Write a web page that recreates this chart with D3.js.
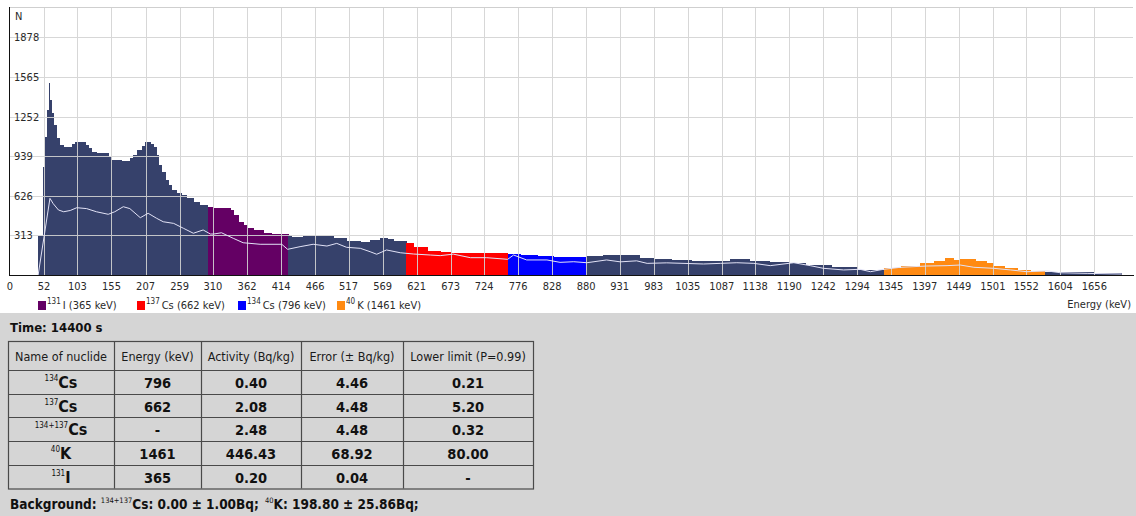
<!DOCTYPE html>
<html>
<head>
<meta charset="utf-8">
<script src="https://cdn.jsdelivr.net/npm/d3@7"></script>
<style>
  html, body { margin: 0; padding: 0; background: #ffffff; }
  svg { display: block; font-family: "DejaVu Sans Condensed", "DejaVu Sans", sans-serif; font-stretch: condensed; }
</style>
</head>
<body>
<svg id="chart" width="1136" height="516"></svg>
<script>
// ---- Gamma spectrum (counts per bin); each bin runs from binStart[i] to the next start ----
const binStart = [43, 50, 54, 57, 59, 61, 64, 67, 71, 76, 82, 94, 99, 115, 120, 125, 132, 150, 155, 171,
  183, 188, 194, 201, 206, 214, 219, 224, 227, 232, 237, 242, 247, 255, 262, 270, 280, 290, 302, 311,
  336, 341, 349, 356, 362, 372, 387, 400, 425, 430, 448, 474, 494, 514, 535, 550, 565, 576, 586, 605,
  616, 637, 657, 672, 740, 760, 779, 805, 830, 880, 906, 935, 962, 983, 1010, 1040, 1100, 1130, 1160, 1190,
  1215, 1255, 1295, 1334, 1360, 1390, 1411, 1428, 1441, 1451, 1474, 1492, 1502, 1518, 1538, 1558, 1580, 1630, 1655];
const binCount = [311, 856, 1093, 1304, 1517, 1383, 1280, 1186, 1083, 1028, 1014, 1035, 1049, 1030, 1001, 975, 962, 930, 909, 901,
  925, 948, 988, 1020, 1054, 1035, 1009, 948, 869, 817, 751, 711, 672, 646, 632, 606, 580, 553, 540, 532,
  514, 474, 421, 395, 369, 356, 334, 324, 308, 303, 306, 311, 295, 269, 258, 277, 290, 285, 269, 250,
  220, 192, 182, 171, 174, 164, 158, 150, 145, 150, 155, 158, 135, 124, 119, 113, 124, 113, 100, 95,
  82, 62, 38, 53, 74, 92, 113, 134, 119, 124, 113, 97, 71, 53, 40, 32, 26, 22, 13];
const spectrumEnd = 1698;

// ---- Background spectrum (light trace) ----
const bgEnergy = [43, 61, 66, 74, 82, 92, 102, 117, 132, 150, 160, 173, 183, 199, 211, 224, 234, 250, 265, 280,
  295, 306, 311, 323, 341, 356, 382, 415, 424, 443, 463, 484, 499, 514, 535, 550, 560, 575, 596, 616,
  642, 657, 677, 703, 728, 760, 769, 789, 820, 840, 861, 881, 911, 932, 957, 973, 1003, 1059, 1085, 1110,
  1136, 1161, 1197, 1222, 1242, 1273, 1298, 1314, 1334, 1360, 1400, 1431, 1451, 1472, 1502, 1528, 1553, 1584, 1604, 1645, 1698];
const bgCount = [0, 606, 564, 514, 500, 510, 532, 525, 500, 480, 500, 540, 525, 453, 488, 448, 421, 408, 369, 330,
  356, 324, 324, 334, 290, 255, 243, 243, 203, 224, 243, 229, 250, 219, 211, 184, 164, 198, 176, 166,
  158, 153, 165, 137, 137, 124, 158, 119, 119, 100, 105, 97, 119, 104, 112, 92, 96, 87, 92, 97,
  92, 74, 97, 74, 53, 40, 45, 26, 45, 61, 71, 74, 79, 61, 53, 40, 26, 32, 18, 13, 8];

// ---- Nuclide energy windows ----
const windowMass = ["131", "137", "134", "40"];
const windowSymbol = ["I", "Cs", "Cs", "K"];
const windowLine = ["365", "662", "796", "1461"];
const windowFrom = [302, 605, 760, 1334];
const windowTo = [425, 760, 880, 1580];

// ---- Axis ticks ----
const xTickLabels = ["0", "52", "103", "155", "207", "259", "310", "362", "414", "466", "517", "569", "621",
  "673", "724", "776", "828", "880", "931", "983", "1035", "1087", "1138", "1190", "1242", "1294",
  "1345", "1397", "1449", "1501", "1552", "1604", "1656"];
const yTickValues = [313, 626, 939, 1252, 1565, 1878];

// ---- Results table ----
const measureTime = "14400 s";
const tableHeaders = ["Name of nuclide", "Energy (keV)", "Activity (Bq/kg)", "Error (\u00b1 Bq/kg)", "Lower limit (P=0.99)"];
const rowMass = ["134", "137", "134+137", "40", "131"];
const rowSymbol = ["Cs", "Cs", "Cs", "K", "I"];
const rowEnergy = ["796", "662", "-", "1461", "365"];
const rowActivity = ["0.40", "2.08", "2.48", "446.43", "0.20"];
const rowError = ["4.46", "4.48", "4.48", "68.92", "0.04"];
const rowLower = ["0.21", "5.20", "0.32", "80.00", "-"];
const bgCs = "0.00 \u00b1 1.00Bq;";
const bgK = "198.80 \u00b1 25.86Bq;";

// ---- Styling ----
const baseColor = "#36416b";
const windowColors = ["#640064", "#ff0000", "#0000ff", "#ff8a12"];
const gridColor = "#d3d3d3";
const textColor = "#2a2a2a";
const legendX = [38, 137, 238, 337];

const svg = d3.select("#chart");
const W = 1136, H = 516;
const plot = { left: 10, right: 1133, top: 7, bottom: 275 };

const x = d3.scaleLinear().domain([0, 1715]).range([plot.left, plot.right]);
const y = d3.scaleLinear().domain([0, 2119]).range([plot.bottom, plot.top]);

svg.append("rect").attr("width", W).attr("height", H).attr("fill", "#ffffff");

// spectrum bins
const bins = binStart.map((s, i) => ({
  from: s,
  to: i + 1 < binStart.length ? binStart[i + 1] : spectrumEnd,
  n: binCount[i]
}));
function binColor(e) {
  for (let k = 0; k < windowFrom.length; k++) {
    if (e >= windowFrom[k] && e < windowTo[k]) return windowColors[k];
  }
  return baseColor;
}
svg.append("g").attr("shape-rendering", "crispEdges")
  .selectAll("rect").data(bins).join("rect")
  .attr("x", d => x(d.from))
  .attr("width", d => x(d.to) - x(d.from) + 0.5)
  .attr("y", d => y(d.n))
  .attr("height", d => y(0) - y(d.n))
  .attr("fill", d => binColor(d.from));

// grid (drawn over the fill, as in the instrument display)
const grid = svg.append("g").attr("stroke", gridColor).attr("stroke-width", 1).attr("opacity", 0.9);
grid.selectAll("line.v").data(xTickLabels.slice(1)).join("line")
  .attr("x1", d => Math.round(x(+d)) + 0.5).attr("x2", d => Math.round(x(+d)) + 0.5)
  .attr("y1", plot.top).attr("y2", plot.bottom);
grid.selectAll("line.h").data(yTickValues).join("line")
  .attr("x1", plot.left).attr("x2", plot.right)
  .attr("y1", d => Math.round(y(d)) + 0.5).attr("y2", d => Math.round(y(d)) + 0.5);

// background trace
const bgLine = d3.line().x(d => x(d[0])).y(d => y(d[1]));
svg.append("path")
  .datum(bgEnergy.map((e, i) => [e, bgCount[i]]))
  .attr("d", bgLine)
  .attr("fill", "none")
  .attr("stroke", "#e2e2f6")
  .attr("stroke-width", 1);

// frame and axes
svg.append("line").attr("x1", plot.left).attr("x2", plot.right).attr("y1", plot.top + 0.5).attr("y2", plot.top + 0.5)
  .attr("stroke", "#cfcfcf");
svg.append("line").attr("x1", plot.left - 0.5).attr("x2", plot.left - 0.5).attr("y1", plot.top).attr("y2", plot.bottom + 1)
  .attr("stroke", "#111");
svg.append("line").attr("x1", plot.left - 1).attr("x2", plot.right + 1).attr("y1", plot.bottom + 0.5).attr("y2", plot.bottom + 0.5)
  .attr("stroke", "#111");

// y tick labels (inside the plot)
svg.append("g").selectAll("text").data(yTickValues).join("text")
  .attr("x", 14).attr("y", d => y(d)).attr("dy", "0.35em")
  .attr("font-size", 11).attr("fill", textColor)
  .text(d => d);
svg.append("text").attr("x", 15).attr("y", 16).attr("dy", "0.35em")
  .attr("font-size", 11).attr("fill", textColor).text("N");

// x tick labels
svg.append("g").selectAll("text").data(xTickLabels).join("text")
  .attr("x", d => x(+d)).attr("y", 286).attr("dy", "0.35em")
  .attr("text-anchor", "middle").attr("font-size", 11).attr("fill", textColor)
  .text(d => d);
svg.append("text").attr("x", 1131).attr("y", 304).attr("dy", "0.35em")
  .attr("text-anchor", "end").attr("font-size", 11).attr("fill", textColor)
  .text("Energy (keV)");

// legend
const legend = svg.append("g");
windowMass.forEach((m, i) => {
  const lx = legendX[i];
  legend.append("rect").attr("x", lx).attr("y", 301).attr("width", 8).attr("height", 9)
    .attr("fill", windowColors[i]);
  const t = legend.append("text").attr("x", lx + 9).attr("y", 309)
    .attr("font-size", 11).attr("fill", textColor);
  t.append("tspan").attr("font-size", 8).attr("dy", -5).text(m);
  t.append("tspan").attr("dy", 5).text("\u2009" + windowSymbol[i] + " (" + windowLine[i] + " keV)");
});

// results panel
const panelTop = 313;
svg.append("rect").attr("x", 0).attr("y", panelTop).attr("width", W).attr("height", H - panelTop)
  .attr("fill", "#d5d5d5");

svg.append("text").attr("x", 10).attr("y", 327).attr("dy", "0.35em")
  .attr("font-size", 13).attr("font-weight", "bold").attr("fill", "#111")
  .text("Time: " + measureTime);

const colEdges = [8, 114, 201, 301, 403, 533];
const headerTop = 341, headerBottom = 370, rowH = 23.7;
const rowEdges = [headerTop, headerBottom];
for (let i = 1; i <= rowMass.length; i++) rowEdges.push(headerBottom + i * rowH);

const table = svg.append("g");
// borders
table.append("rect")
  .attr("x", colEdges[0] + 0.5).attr("y", headerTop + 0.5)
  .attr("width", colEdges[colEdges.length - 1] - colEdges[0])
  .attr("height", rowEdges[rowEdges.length - 1] - headerTop)
  .attr("fill", "none").attr("stroke", "#4a4a4a").attr("stroke-width", 1.2);
colEdges.slice(1, -1).forEach(cx => {
  table.append("line").attr("x1", cx + 0.5).attr("x2", cx + 0.5)
    .attr("y1", headerTop).attr("y2", rowEdges[rowEdges.length - 1])
    .attr("stroke", "#4a4a4a").attr("stroke-width", 1.2);
});
rowEdges.slice(1, -1).forEach(ry => {
  table.append("line").attr("x1", colEdges[0]).attr("x2", colEdges[colEdges.length - 1])
    .attr("y1", Math.round(ry) + 0.5).attr("y2", Math.round(ry) + 0.5)
    .attr("stroke", "#4a4a4a").attr("stroke-width", 1.2);
});
const colMid = i => (colEdges[i] + colEdges[i + 1]) / 2;
tableHeaders.forEach((h, i) => {
  table.append("text").attr("x", colMid(i)).attr("y", (headerTop + headerBottom) / 2 + 1)
    .attr("dy", "0.35em").attr("text-anchor", "middle")
    .attr("font-size", 12.5).attr("fill", "#1a1a1a").text(h);
});
rowMass.forEach((m, r) => {
  const cy = (rowEdges[r + 1] + rowEdges[r + 2]) / 2;
  const name = table.append("text").attr("x", colMid(0)).attr("y", cy + 6)
    .attr("text-anchor", "middle").attr("fill", "#111");
  name.append("tspan").attr("font-size", 8).attr("dy", -7).text(m);
  name.append("tspan").attr("font-size", 16).attr("font-weight", "bold").attr("dy", 7).text(rowSymbol[r]);
  [rowEnergy[r], rowActivity[r], rowError[r], rowLower[r]].forEach((v, c) => {
    table.append("text").attr("x", colMid(c + 1)).attr("y", cy + 1).attr("dy", "0.35em")
      .attr("text-anchor", "middle").attr("font-size", 14.5).attr("font-weight", "bold")
      .attr("fill", "#111").text(v);
  });
});

// background activities line
const bg = svg.append("text").attr("x", 10).attr("y", 509)
  .attr("font-size", 13.5).attr("font-weight", "bold").attr("fill", "#111");
bg.append("tspan").text("Background: ");
bg.append("tspan").attr("font-size", 7.5).attr("font-weight", "normal").attr("dy", -6).text("134+137");
bg.append("tspan").attr("dy", 6).text("Cs: " + bgCs + "\u2002");
bg.append("tspan").attr("font-size", 7.5).attr("font-weight", "normal").attr("dy", -6).text("40");
bg.append("tspan").attr("dy", 6).text("K: " + bgK);
</script>
</body>
</html>
